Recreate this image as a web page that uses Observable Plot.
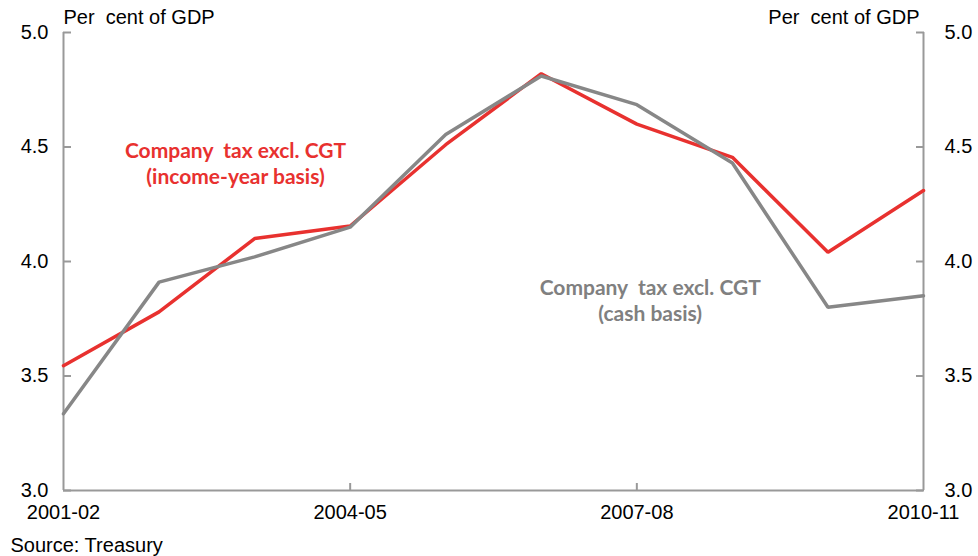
<!DOCTYPE html>
<html>
<head>
<meta charset="utf-8">
<script src="https://cdn.jsdelivr.net/npm/d3@7"></script>
<script src="https://cdn.jsdelivr.net/npm/@observablehq/plot@0.6"></script>
<style>
  html, body { margin: 0; padding: 0; background: #fff; }
  #chart { position: relative; width: 978px; height: 556px; }
  #chart svg { font-family: "Liberation Sans", Arial, sans-serif; }
</style>
</head>
<body>
<div id="chart"></div>
<script>
const years = ["2001-02","2002-03","2003-04","2004-05","2005-06","2006-07","2007-08","2008-09","2009-10","2010-11"];
const incomeYear = [3.545, 3.78, 4.10, 4.155, 4.51, 4.82, 4.60, 4.455, 4.04, 4.31];
const cashBasis  = [3.335, 3.91, 4.02, 4.15, 4.555, 4.81, 4.685, 4.43, 3.80, 3.85];
const yTicks = [3.0, 3.5, 4.0, 4.5, 5.0];
const xTickLabels = ["2001-02", "2004-05", "2007-08", "2010-11"];
const unitLabel = "Per\u00a0 cent of GDP";
const sourceNote = "Source: Treasury";
const seriesLabels = [
  {name: "Company\u00a0 tax excl. CGT\n(income-year basis)", at: 1.80, value: 4.43, color: "#E8312F"},
  {name: "Company\u00a0 tax excl. CGT\n(cash basis)", at: 6.14, value: 3.835, color: "#808080"}
];

const red = "#E8312F", grey = "#878787", axisGrey = "#999999";

const rows = [];
years.forEach((y, i) => {
  rows.push({i, series: "income", v: incomeYear[i]});
  rows.push({i, series: "cash", v: cashBasis[i]});
});
const labelIdx = xTickLabels.map(l => years.indexOf(l));

const plot = Plot.plot({
  width: 978,
  height: 556,
  marginLeft: 63,
  marginRight: 55,
  marginTop: 32,
  marginBottom: 66,
  style: {fontFamily: "Liberation Sans, Arial, sans-serif", fontSize: "20px", color: "#000", background: "#fff"},
  x: {type: "linear", domain: [0, years.length - 1]},
  y: {domain: [3, 5]},
  marks: [
    Plot.ruleX([0, years.length - 1], {stroke: axisGrey, strokeWidth: 2}),
    Plot.ruleY([3], {stroke: axisGrey, strokeWidth: 2}),
    Plot.axisY({anchor: "left", ticks: yTicks, tickSize: -8, tickFormat: () => "", stroke: axisGrey, strokeWidth: 2, label: null}),
    Plot.axisY({anchor: "right", ticks: yTicks, tickSize: -8, tickFormat: () => "", stroke: axisGrey, strokeWidth: 2, label: null}),
    Plot.axisY({anchor: "left", ticks: yTicks, tickSize: 0, tickPadding: 15, tickFormat: d3.format(".1f"), fill: "#000", fontSize: 20, label: null}),
    Plot.axisY({anchor: "right", ticks: yTicks, tickSize: 0, tickPadding: 21, tickFormat: d3.format(".1f"), fill: "#000", fontSize: 20, label: null}),
    Plot.axisX({ticks: [3, 6], tickSize: -7, tickFormat: () => "", stroke: axisGrey, strokeWidth: 2, label: null}),
    Plot.axisX({ticks: labelIdx, tickSize: 0, tickPadding: 14, tickFormat: i => years[i], fill: "#000", fontSize: 20, label: null}),
    Plot.line(rows.filter(d => d.series === "income"), {x: "i", y: "v", stroke: red, strokeWidth: 3.5, strokeLinejoin: "miter"}),
    Plot.line(rows.filter(d => d.series === "cash"), {x: "i", y: "v", stroke: grey, strokeWidth: 3.5, strokeLinejoin: "miter"}),
    Plot.text(seriesLabels, {x: "at", y: "value", text: "name", fill: "color", fontFamily: "Lato, 'Open Sans', sans-serif", fontWeight: "bold", fontSize: 21, lineHeight: 1.24, textAnchor: "middle"}),
    Plot.text([unitLabel], {frameAnchor: "top-left", text: d => d, dy: -23, dx: 0, fontSize: 20, fill: "#000", textAnchor: "start", lineAnchor: "top"}),
    Plot.text([unitLabel], {frameAnchor: "top-right", text: d => d, dy: -23, dx: -4, fontSize: 20, fill: "#000", textAnchor: "end", lineAnchor: "top"}),
    Plot.text([sourceNote], {frameAnchor: "bottom-left", text: d => d, dx: -53, dy: 61, fontSize: 20, fill: "#000", textAnchor: "start", lineAnchor: "bottom"})
  ]
});
document.getElementById("chart").appendChild(plot);
</script>
</body>
</html>
